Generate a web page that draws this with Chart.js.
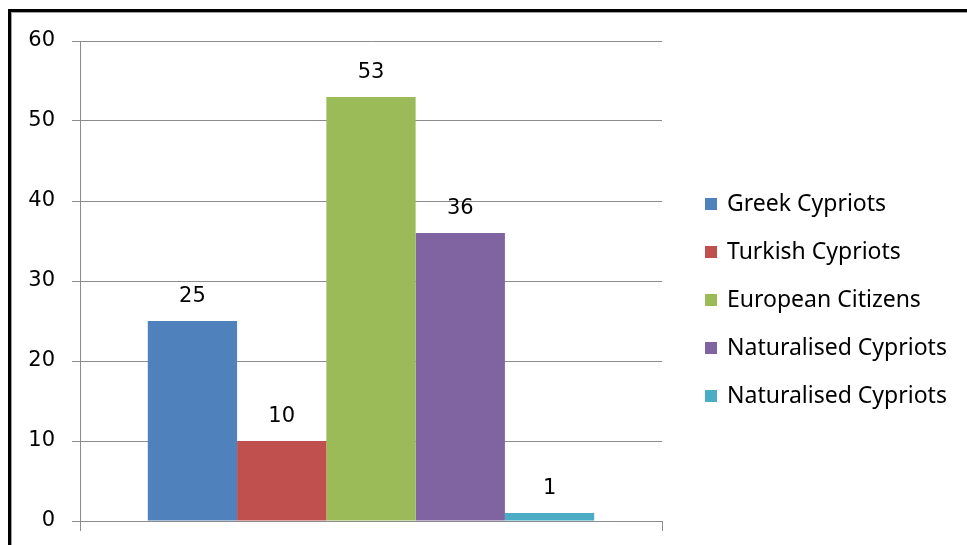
<!DOCTYPE html>
<html>
<head>
<meta charset="utf-8">
<script src="https://cdn.jsdelivr.net/npm/chart.js@4"></script>
<style>
    html, body { margin: 0; padding: 0; background: #fff; }
    #wrap { position: relative; width: 967px; height: 545px; overflow: hidden; }
    #frame {
        position: absolute; left: 8px; top: 9px; right: -10px; bottom: -10px;
        border-top: 3px solid #000; border-left: 3px solid #000;
        box-shadow: inset 1px 1px 0 #a0a0a0;
        pointer-events: none;
    }
    canvas { position: absolute; left: 0; top: 0; }
</style>
</head>
<body>
<div id="wrap">
    <canvas id="chart" width="967" height="545"></canvas>
    <div id="frame"></div>
</div>
<script>
const categories = [''];
const seriesNames = ['Greek Cypriots', 'Turkish Cypriots', 'European Citizens', 'Naturalised Cypriots', 'Naturalised Cypriots'];
const seriesValues = [25, 10, 53, 36, 1];
const seriesColors = ['#4f81bd', '#c0504d', '#9bbb59', '#8064a2', '#4bacc6'];
const yTicks = [0, 10, 20, 30, 40, 50, 60];

const gridGray = '#8c8c8c';

// ── Value labels above each bar ──
const valueLabels = {
    id: 'valueLabels',
    afterDatasetsDraw(chart) {
        const ctx = chart.ctx;
        ctx.save();
        ctx.font = "21px 'DejaVu Sans'";
        ctx.fillStyle = '#000';
        ctx.textAlign = 'center';
        ctx.textBaseline = 'middle';
        chart.data.datasets.forEach((ds, i) => {
            const bar = chart.getDatasetMeta(i).data[0];
            ctx.fillText(String(ds.data[0]), bar.x, bar.y - 24);
        });
        ctx.restore();
    }
};

// ── Legend on the right (drawn by hand, built-in one is squeezed) ──
const sideLegend = {
    id: 'sideLegend',
    afterDraw(chart) {
        const ctx = chart.ctx;
        const x = chart.chartArea.right + 43;
        ctx.save();
        ctx.font = "23px 'Noto Sans'";
        ctx.textBaseline = 'middle';
        chart.data.datasets.forEach((ds, i) => {
            const y = 204 + i * 48;
            ctx.fillStyle = ds.backgroundColor;
            ctx.fillRect(x, y - 6, 12, 12);
            ctx.fillStyle = '#000';
            ctx.fillText(ds.label, x + 22, y);
        });
        ctx.restore();
    }
};

new Chart(document.getElementById('chart'), {
    type: 'bar',
    data: {
        labels: categories,
        datasets: seriesNames.map((name, i) => ({
            label: name,
            data: [seriesValues[i]],
            backgroundColor: seriesColors[i],
            borderWidth: 0,
            categoryPercentage: 0.767,
            barPercentage: 1,
        })),
    },
    options: {
        responsive: false,
        animation: false,
        events: [],
        layout: { padding: { left: 0, top: 41, bottom: 14, right: 305 } },
        plugins: {
            tooltip: { enabled: false },
            legend: { display: false },
        },
        scales: {
            x: {
                afterFit: s => { s.height = 10; },
                grid: { drawOnChartArea: false, drawTicks: true, tickLength: 10, color: gridGray },
                border: { color: gridGray },
                ticks: { display: false },
            },
            y: {
                min: yTicks[0],
                max: yTicks[yTicks.length - 1],
                afterBuildTicks: s => { s.ticks = yTicks.map(v => ({ value: v })); },
                afterFit: s => { s.width = 80; s.paddingTop = 0; s.paddingBottom = 0; },
                grid: { color: gridGray, tickLength: 8 },
                border: { color: gridGray },
                ticks: { font: { family: "'DejaVu Sans'", size: 21 }, color: '#000', padding: 17 },
            },
        },
    },
    plugins: [valueLabels, sideLegend],
});
</script>
</body>
</html>
